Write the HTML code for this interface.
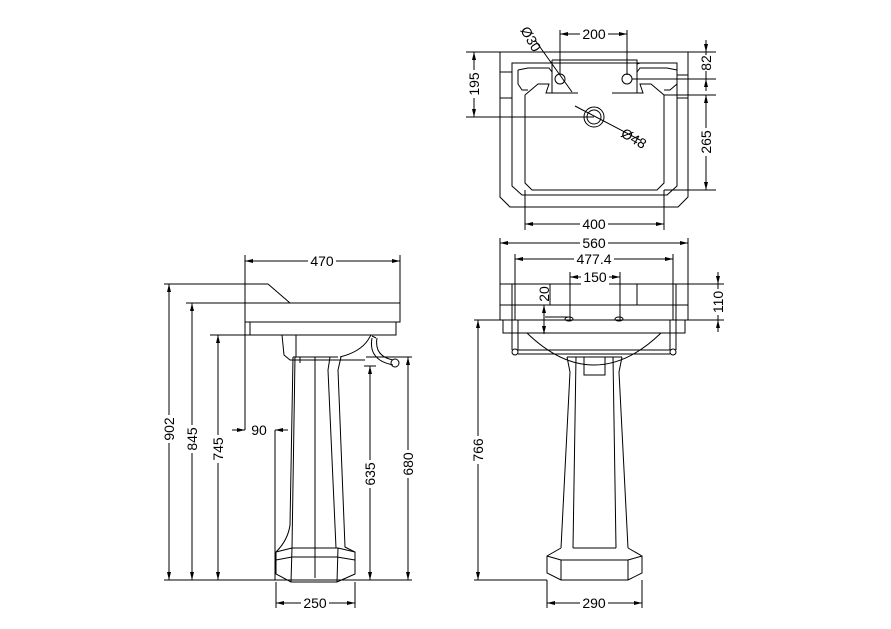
<!DOCTYPE html>
<html><head><meta charset="utf-8"><style>
html,body{margin:0;padding:0;background:#fff}
svg{display:block}
text{font-family:"Liberation Sans",sans-serif;font-size:14px;fill:#000}
</style></head><body>
<svg width="891" height="629" viewBox="0 0 891 629" xmlns="http://www.w3.org/2000/svg">
<defs>
<marker id="a" viewBox="0 0 8 4" refX="8" refY="2" markerWidth="8" markerHeight="4" orient="auto-start-reverse"><path d="M0,0 L8,2 L0,4 z" fill="#000"/></marker>
</defs>
<g fill="none" stroke="#000" stroke-width="1">
<!-- PLAN VIEW -->
<path d="M500,52 H688 V197 L678,207 H510 L500,197 Z"/>
<path d="M512,63 H677 V186 L667,195 H522 L512,186 Z"/>
<path d="M552,60 H637 V64 L640,63"/>
<path d="M500,72 H512 M500,98 H512 M677,75 H688 M677,98 H688"/>
<path d="M525,95 L538,84 H549 L546,93 H552 V92 M525,95 V183 L532,190 H657 L664,183 V95 L651,84 H640 L643,93 H637"/>
<path d="M552,93 V60 M637,93 V60 M552,93 H578 M612,93 H637"/>
<path d="M518,70 L528,68 H549 L552,72 M518,70 V84 L522,90 H528 M677,70 L667,68 H640 L637,72 M677,70 V84 L670,90 H664"/>
<circle cx="560" cy="79" r="5"/><circle cx="627" cy="79" r="5"/>
<circle cx="594" cy="117" r="10"/><circle cx="594" cy="117" r="7"/>
<path d="M535,40 L572,92 M575,106 L640,140"/>
<!-- plan dims -->
<path d="M560,30 V75 M627,30 V75"/>
<path d="M560,34 H627" marker-start="url(#a)" marker-end="url(#a)"/>
<path d="M466,52 H500 M466,117 H594"/>
<path d="M474,52 V117" marker-start="url(#a)" marker-end="url(#a)"/>
<path d="M688,52 H716 M632,79 H716 M664,95 H716 M664,190 H716"/>
<path d="M706,40 V52" marker-end="url(#a)"/><path d="M706,91 V79" marker-end="url(#a)"/>
<path d="M706,52 V79"/>
<path d="M706,95 V190" marker-start="url(#a)" marker-end="url(#a)"/>
<path d="M525,190 V230 M664,190 V230"/>
<path d="M525,224 H664" marker-start="url(#a)" marker-end="url(#a)"/>

<!-- SIDE VIEW -->
<path d="M245,255 V322 M400,255 V303"/>
<path d="M245,261 H400" marker-start="url(#a)" marker-end="url(#a)"/>
<path d="M164,284 H268 L290,303"/>
<path d="M186,303 H400 V322 H245 V303"/>
<path d="M250,322 V335 H396 V322 M210,335 H250"/>
<path d="M282,335 L284,355 L290,360 H365 M296,335 V357"/>
<path d="M371,335 L368,340 Q360,352 340,357 M372,336 L376,338 M371,335 H378"/>
<path d="M372,338 Q368,360 393,365 M377,338 Q374,356 393,360"/>
<circle cx="395" cy="363" r="4"/>
<path d="M293,357 H338 M293,357 L290,525 Q288,540 276,552 V574 L291,582 H337 L355,574 V552 L345,547 L338,370 L341,357"/>
<path d="M295,357 L292,548 H338 M276,552 L292,548 M292,548 L291,582 M338,548 L355,552 M338,548 L337,582 M315,357 V578"/>
<path d="M330,357 L328,370 L336,548"/>
<path d="M276,560 L292,557 H337 L355,560"/>
<path d="M300,357 V363 M366,357 H412 M364,366 H376"/>
<!-- side dims -->
<path d="M169,284 V580" marker-start="url(#a)" marker-end="url(#a)"/>
<path d="M192,303 V580" marker-start="url(#a)" marker-end="url(#a)"/>
<path d="M218,335 V580" marker-start="url(#a)" marker-end="url(#a)"/>
<path d="M164,580 H412"/>
<path d="M245,322 V430 M275,430 V580"/>
<path d="M232,430 H245" marker-end="url(#a)"/><path d="M288,430 H275" marker-end="url(#a)"/>
<path d="M370,366 V580" marker-start="url(#a)" marker-end="url(#a)"/>
<path d="M408,357 V580" marker-start="url(#a)" marker-end="url(#a)"/>
<path d="M276,582 V608 M355,582 V608"/>
<path d="M276,603 H355" marker-start="url(#a)" marker-end="url(#a)"/>

<!-- FRONT VIEW -->
<path d="M500,238 V284 M688,238 V284"/>
<path d="M500,243 H688" marker-start="url(#a)" marker-end="url(#a)"/>
<path d="M515,254 V320 M673,254 V320"/>
<path d="M515,259 H673" marker-start="url(#a)" marker-end="url(#a)"/>
<path d="M570,272 V320 M620,272 V320"/>
<path d="M570,277 H620" marker-start="url(#a)" marker-end="url(#a)"/>
<path d="M500,284 H688 V320 H500 Z M500,305 H688 M512,284 V320 M676,284 V320 M550,284 V305 M637,284 V305"/>
<path d="M503,320 V333 H685 V320"/>
<path d="M512,320 V350 M518,320 V350 M670,320 V350 M676,320 V350"/>
<circle cx="515" cy="352" r="3"/><circle cx="673" cy="352" r="3"/>
<path d="M518,350 H670 M518,354 H670"/>
<path d="M527,333 Q560,365 594,365 Q628,365 661,333"/>
<ellipse cx="569" cy="319" rx="4" ry="2"/><ellipse cx="619" cy="319" rx="4" ry="2"/>
<path d="M545,317 H568 M545,320 H568"/>
<path d="M567,357 H622 M567,357 L570,372 L561,548 M622,357 L619,372 L628,548 M576,357 L573,548 M613,357 L616,548"/>
<path d="M584,357 V375 H605 V357"/>
<path d="M561,548 L547,556 V573 L561,580 H628 L642,573 V556 L628,548 M573,548 H616 M561,560 H628 M547,556 L561,560 M642,556 L628,560 M561,560 V580 M628,560 V580"/>
<!-- front dims -->
<path d="M688,284 H724 M676,320 H724"/>
<path d="M718,272 V284" marker-end="url(#a)"/><path d="M718,332 V320" marker-end="url(#a)"/>
<path d="M718,284 V320"/>
<path d="M474,320 H500 M474,580 H547"/>
<path d="M478,320 V580" marker-start="url(#a)" marker-end="url(#a)"/>
<path d="M547,580 V608 M642,580 V608"/>
<path d="M547,603 H642" marker-start="url(#a)" marker-end="url(#a)"/>
<path d="M544,305 V334" marker-start="url(#a)" marker-end="url(#a)"/>
</g>
<g>
<rect x="580" y="26" width="28" height="16" fill="#fff"/><text x="594" y="39" text-anchor="middle">200</text>
<text x="0" y="0" transform="translate(520,30) rotate(60)">Ø30</text>
<text x="0" y="0" transform="translate(620,136) rotate(30)">Ø48</text>
<rect x="466" y="70" width="16" height="28" fill="#fff"/><text transform="translate(479,84) rotate(-90)" text-anchor="middle">195</text>
<rect x="698" y="55" width="16" height="16" fill="#fff"/><text transform="translate(711,63) rotate(-90)" text-anchor="middle">82</text>
<rect x="698" y="128" width="16" height="28" fill="#fff"/><text transform="translate(711,142) rotate(-90)" text-anchor="middle">265</text>
<rect x="580" y="216" width="28" height="16" fill="#fff"/><text x="594" y="229" text-anchor="middle">400</text>
<rect x="308" y="253" width="28" height="16" fill="#fff"/><text x="322" y="266" text-anchor="middle">470</text>
<rect x="580" y="235" width="28" height="16" fill="#fff"/><text x="594" y="248" text-anchor="middle">560</text>
<rect x="574" y="251" width="40" height="16" fill="#fff"/><text x="594" y="264" text-anchor="middle">477.4</text>
<rect x="581" y="269" width="28" height="16" fill="#fff"/><text x="595" y="282" text-anchor="middle">150</text>
<text transform="translate(549,294) rotate(-90)" text-anchor="middle">20</text>
<rect x="710" y="289" width="16" height="26" fill="#fff"/><text transform="translate(723,302) rotate(-90)" text-anchor="middle">110</text>
<rect x="470" y="436" width="16" height="28" fill="#fff"/><text transform="translate(483,450) rotate(-90)" text-anchor="middle">766</text>
<rect x="580" y="595" width="28" height="16" fill="#fff"/><text x="594" y="608" text-anchor="middle">290</text>
<rect x="161" y="415" width="16" height="28" fill="#fff"/><text transform="translate(174,429) rotate(-90)" text-anchor="middle">902</text>
<rect x="184" y="425" width="16" height="28" fill="#fff"/><text transform="translate(197,439) rotate(-90)" text-anchor="middle">845</text>
<rect x="210" y="435" width="16" height="28" fill="#fff"/><text transform="translate(223,449) rotate(-90)" text-anchor="middle">745</text>
<rect x="249" y="423" width="20" height="15" fill="#fff"/><text x="259" y="435" text-anchor="middle">90</text>
<rect x="362" y="460" width="16" height="28" fill="#fff"/><text transform="translate(375,474) rotate(-90)" text-anchor="middle">635</text>
<rect x="400" y="450" width="16" height="28" fill="#fff"/><text transform="translate(413,464) rotate(-90)" text-anchor="middle">680</text>
<rect x="301" y="595" width="28" height="16" fill="#fff"/><text x="315" y="608" text-anchor="middle">250</text>
</g>
</svg>
</body></html>
